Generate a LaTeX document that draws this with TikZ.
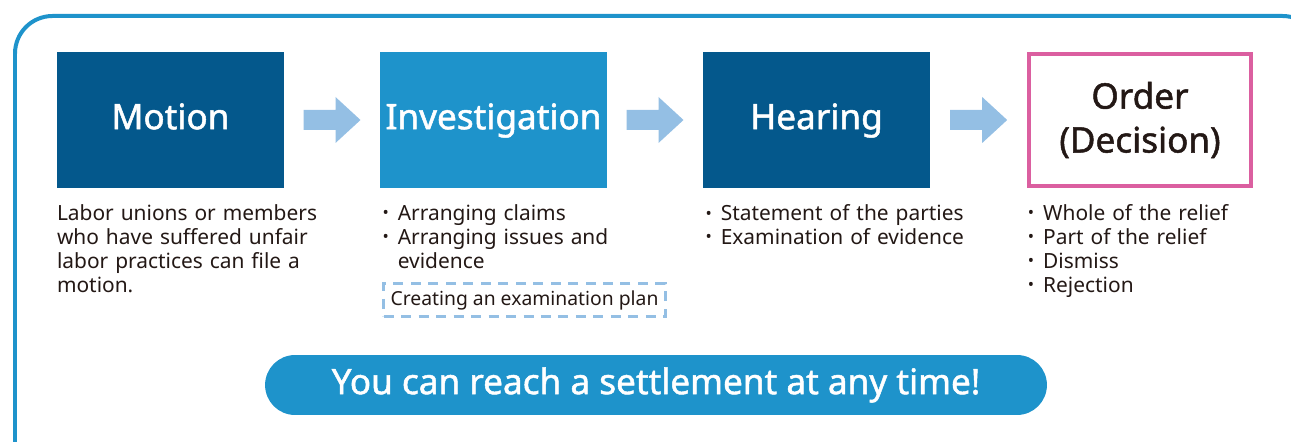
\documentclass[tikz,border=0pt]{standalone}
\usepackage{fontspec}
\setmainfont{Noto Sans}
\newfontfamily\headfont[FakeBold=1.4]{Noto Sans}
\usetikzlibrary{calc,positioning}

\definecolor{deepblue}{HTML}{04588C}
\definecolor{midblue}{HTML}{1E93CB}
\definecolor{paleblue}{HTML}{94BFE4}
\definecolor{orderpink}{HTML}{DB5FA0}
\definecolor{inkgray}{HTML}{231815}

\newcommand{\itm}[1]{\hangindent=0.85em\hangafter=1%
  \makebox[0.85em][l]{\hspace{0.12em}\raisebox{0.08em}{\fontsize{9.5}{9.5}\selectfont •}}#1}
\newcommand{\itmgap}{\hspace*{0.85em}}

\tikzset{
  stepbox/.style={minimum width=4.54cm, minimum height=2.72cm, inner sep=0pt,
    text height=15pt, text depth=4.5pt, font=\headfont\fontsize{20}{25}\selectfont},
  desc/.style={anchor=north west, inner sep=0pt, align=left, text=inkgray,
    text width=6cm, font=\fontsize{11.9}{13.6}\selectfont},
  flowarrow/.style={fill=paleblue},
}

\begin{document}
\begin{tikzpicture}[x=0.02cm, y=-0.02cm]
  \useasboundingbox (0,0) rectangle (1291,442);
  \clip (0,0) rectangle (1291,442);

  % outer frame, runs off the page at right and bottom
  \draw[midblue, line width=0.08cm, rounded corners=0.75cm] (15,16) rectangle (1320,480);

  % the four steps
  \node[stepbox, fill=deepblue, text=white] (motion) at (170.5,120) {Motion};
  \node[stepbox, fill=midblue, text=white] (invest) at (493.5,120) {Investigation};
  \node[stepbox, fill=deepblue, text=white] (hearing) at (816.5,120) {Hearing};
  \node[stepbox, draw=orderpink, line width=0.08cm, fill=white, text=inkgray,
    text height={}, text depth={}, align=center,
    minimum width=4.44cm, minimum height=2.64cm] (order) at (1140,120) {Order\\(Decision)};

  \foreach \a/\b in {motion/invest, invest/hearing, hearing/order}
    \fill[flowarrow] ($(\a.east)!0.5!(\b.west)$) ++(-28.5,-10) -- ++(32,0) -- ++(0,-13)
      -- ++(25,23) -- ++(-25,23) -- ++(0,-13) -- ++(-32,0) -- cycle;

  % what happens in each step
  \node[desc] (motiontxt) at ($(motion.south west)+(0,16)$)
    {Labor unions or members\\who have suffered unfair\\labor practices can file a\\motion.};
  \node[desc] (investtxt) at ($(invest.south west)+(0,16)$)
    {\itm{Arranging claims}\par\itm{Arranging issues and}\\\itmgap evidence};
  \node[desc] (hearingtxt) at ($(hearing.south west)+(0,16)$)
    {\itm{Statement of the parties}\par\itm{Examination of evidence}};
  \node[desc] (ordertxt) at ($(order.south west)+(-2,16)$)
    {\itm{Whole of the relief}\par\itm{Part of the relief}\par\itm{Dismiss}\par\itm{Rejection}};

  \node[draw=paleblue, dashed, line width=0.065cm, dash pattern=on 0.2cm off 0.15cm,
    minimum width=5.64cm, minimum height=0.66cm, inner sep=0pt, text=inkgray,
    font=\fontsize{11}{12}\selectfont] (plan) at (524.5,300) {Creating an examination plan};

  \node[fill=midblue, text=white, rounded corners=0.6cm, minimum width=15.64cm,
    minimum height=1.2cm, font=\headfont\fontsize{20}{24}\selectfont] (settle) at (656,385)
    {You can reach a settlement at any time!};
\end{tikzpicture}
\end{document}
